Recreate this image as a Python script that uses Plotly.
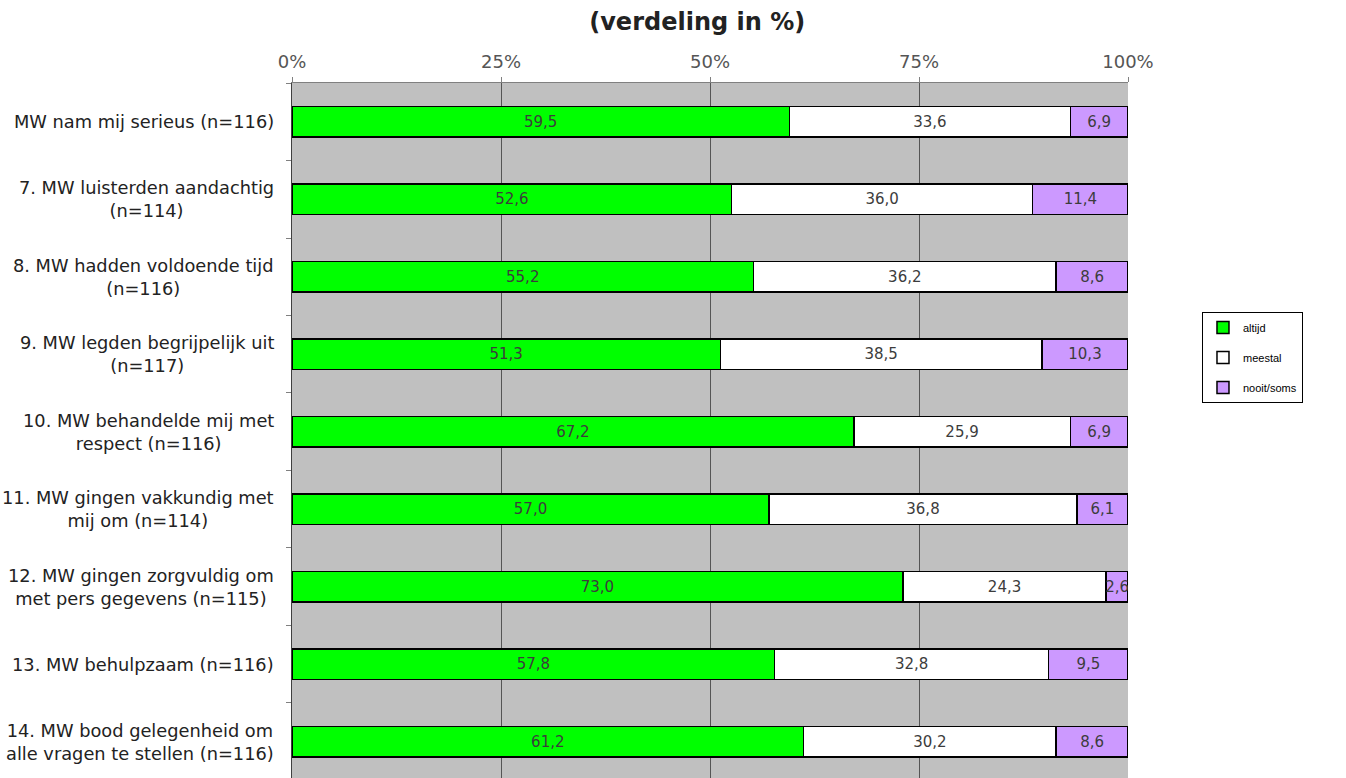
import plotly.graph_objects as go

categories = [
    "MW nam mij serieus (n=116)",
    "7. MW luisterden aandachtig<br>(n=114)",
    "8. MW hadden voldoende tijd<br>(n=116)",
    "9. MW legden begrijpelijk uit<br>(n=117)",
    "10. MW behandelde mij met<br>respect (n=116)",
    "11. MW gingen vakkundig met<br>mij om (n=114)",
    "12. MW gingen zorgvuldig om<br>met pers gegevens (n=115)",
    "13. MW behulpzaam (n=116)",
    "14. MW bood gelegenheid om<br>alle vragen te stellen (n=116)",
]
altijd = [59.5, 52.6, 55.2, 51.3, 67.2, 57.0, 73.0, 57.8, 61.2]
meestal = [33.6, 36.0, 36.2, 38.5, 25.9, 36.8, 24.3, 32.8, 30.2]
nooit_soms = [6.9, 11.4, 8.6, 10.3, 6.9, 6.1, 2.6, 9.5, 8.6]
series_names = ["altijd", "meestal", "nooit/soms"]
tick_vals = [0, 25, 50, 75, 100]
tick_text = ["0%", "25%", "50%", "75%", "100%"]

colors = ["#00FF00", "#FFFFFF", "#CC99FF"]
ids = list(range(len(categories)))

def fmt(v):
    return f"{v:.1f}".replace(".", ",")

fig = go.Figure()
for name, vals, col in zip(series_names, [altijd, meestal, nooit_soms], colors):
    fig.add_trace(go.Bar(
        y=ids, x=vals, name=name, orientation="h",
        marker=dict(color=col, line=dict(color="#000000", width=1.5)),
        text=[fmt(v) for v in vals], textposition="inside", textangle=0,
        insidetextanchor="middle", constraintext="none",
        textfont=dict(family="DejaVu Sans", size=15, color="#3c3c3c"),
        legendgroup=name,
    ))

for i, c in enumerate(categories):
    fig.add_annotation(
        x=0, xref="paper", xshift=-16, xanchor="right",
        y=i, yref="y", text=c, showarrow=False, align="center",
        font=dict(family="DejaVu Sans", size=17.8, color="#222222"),
    )

fig.update_layout(
    width=1346, height=778,
    margin=dict(l=292, r=218, t=83, b=0, autoexpand=False),
    barmode="stack", barnorm="percent", bargap=0.61,
    plot_bgcolor="#C0C0C0", paper_bgcolor="#FFFFFF",
    uniformtext=dict(minsize=15, mode="show"),
    title=dict(text="<b>(verdeling in %)</b>", x=0.518, xanchor="center",
               y=0.972, yanchor="middle", yref="container",
               font=dict(family="DejaVu Sans", size=24, color="#222222")),
    legend=dict(x=1.0885, y=0.6705, xanchor="left", yanchor="top",
                bordercolor="#000000", borderwidth=1, bgcolor="#FFFFFF",
                font=dict(family="Liberation Sans", size=11, color="#000000"),
                tracegroupgap=11, traceorder="grouped",
                entrywidth=100, itemwidth=30),
    xaxis=dict(side="top", range=[0, 100], tickvals=tick_vals, ticktext=tick_text,
               showgrid=True, gridcolor="#555555", gridwidth=1,
               zeroline=False, showline=True, linecolor="#808080",
               ticks="outside", ticklen=5, tickcolor="#808080",
               ticklabelstandoff=2,
               tickfont=dict(family="DejaVu Sans", size=18, color="#555555"),
               fixedrange=True),
    yaxis=dict(type="linear", range=[8.468, -0.5], showticklabels=False,
               tickvals=[i + 0.5 for i in range(-1, len(categories))],
               ticks="outside", ticklen=5, tickcolor="#808080",
               showgrid=False, zeroline=False, showline=True,
               linecolor="#404040", linewidth=1, fixedrange=True),
)

fig.write_html("out.html")
